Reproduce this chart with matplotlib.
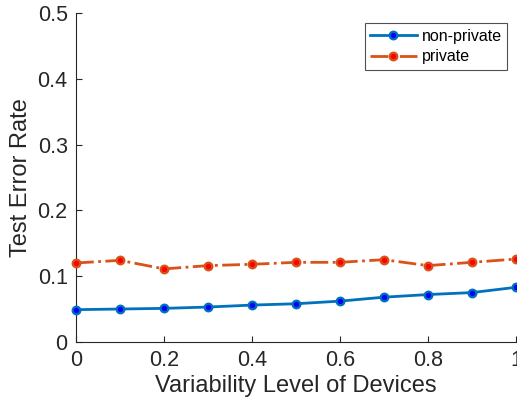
import matplotlib
matplotlib.use("Agg")
import matplotlib.pyplot as plt

variability = [0, 0.1, 0.2, 0.3, 0.4, 0.5, 0.6, 0.7, 0.8, 0.9, 1.0]
non_private = [0.049, 0.050, 0.051, 0.053, 0.056, 0.058, 0.062, 0.068, 0.072, 0.075, 0.083]
private = [0.120, 0.124, 0.111, 0.116, 0.118, 0.121, 0.121, 0.125, 0.116, 0.121, 0.126]

y_ticks = [0, 0.1, 0.2, 0.3, 0.4, 0.5]
x_ticks = [0, 0.2, 0.4, 0.6, 0.8, 1]
x_ticklabels = ["0", "0.2", "0.4", "0.6", "0.8", "1"]
y_ticklabels = ["0", "0.1", "0.2", "0.3", "0.4", "0.5"]

plt.rcParams["font.family"] = ["Liberation Sans", "DejaVu Sans"]

fig = plt.figure(figsize=(5.17, 4.08), dpi=100)
ax = fig.add_axes([0.147, 0.162, 0.851, 0.806])

ax.plot(variability, non_private, color="#0072BD", linewidth=2, marker="o",
        markersize=5.5, markerfacecolor="#0000FF", markeredgecolor="#0072BD",
        markeredgewidth=1.6, label="non-private", clip_on=False, zorder=3)
ax.plot(variability, private, color="#D95319", linewidth=2, linestyle="-.",
        marker="o", markersize=5.5, markerfacecolor="#FF0000",
        markeredgecolor="#D95319", markeredgewidth=1.6, label="private",
        clip_on=False, zorder=3)

ax.set_xlim(0, 1)
ax.set_ylim(0, 0.5)
ax.set_xticks(x_ticks)
ax.set_xticklabels(x_ticklabels)
ax.set_yticks(y_ticks)
ax.set_yticklabels(y_ticklabels)
ax.tick_params(direction="in", length=4, labelsize=15.5, colors="#262626",
               width=0.8, pad=6)
ax.spines["top"].set_visible(False)
ax.spines["right"].set_visible(False)
for s in ("left", "bottom"):
    ax.spines[s].set_color("#262626")
    ax.spines[s].set_linewidth(0.8)

ax.set_xlabel("Variability Level of Devices", fontsize=17, color="#262626",
              labelpad=3)
ax.set_ylabel("Test Error Rate", fontsize=17, color="#262626")

leg = ax.legend(loc="upper right", bbox_to_anchor=(0.98, 0.97), fontsize=11.5,
                frameon=True, fancybox=False, edgecolor="#262626",
                borderpad=0.35, handlelength=2.9, handletextpad=0.3,
                labelspacing=0.35, borderaxespad=0)
leg.get_frame().set_linewidth(0.8)

fig.savefig("out.png", dpi=100)
